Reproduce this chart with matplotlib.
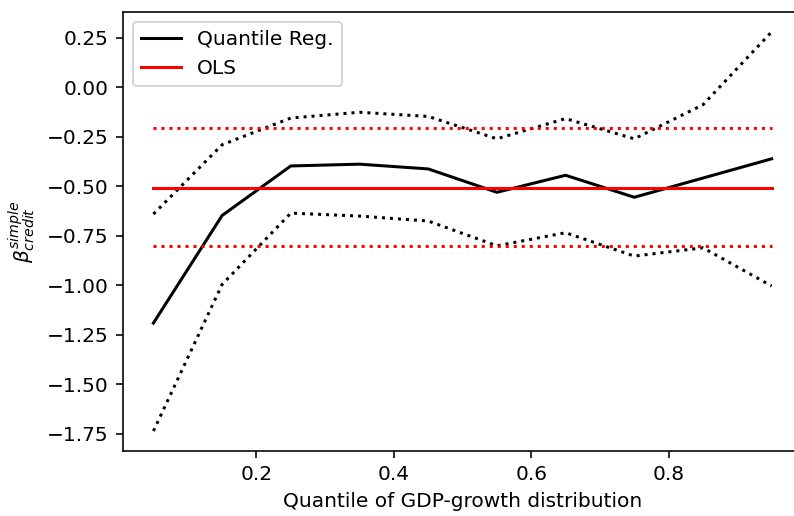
import numpy as np
import matplotlib
matplotlib.use("Agg")
import matplotlib.pyplot as plt

quantiles = [0.05, 0.15, 0.25, 0.35, 0.45, 0.55, 0.65, 0.75, 0.85, 0.95]
qr_coef = [-1.19, -0.647, -0.397, -0.388, -0.412, -0.53, -0.444, -0.555, -0.458, -0.361]
qr_upper = [-0.64, -0.29, -0.155, -0.126, -0.147, -0.26, -0.158, -0.26, -0.088, 0.28]
qr_lower = [-1.735, -0.995, -0.635, -0.65, -0.675, -0.80, -0.734, -0.852, -0.81, -1.003]
ols_coef = -0.506
ols_upper = -0.207
ols_lower = -0.803

dpi = 145
fig = plt.figure(figsize=(794 / dpi, 516 / dpi), dpi=dpi)
ax = fig.add_axes([0.1543, 0.126, 0.8565, 0.851])

q = np.array(quantiles)
ax.plot(q, qr_coef, color="black", label="Quantile Reg.")
ax.plot(q, qr_upper, color="black", linestyle=":")
ax.plot(q, qr_lower, color="black", linestyle=":")
ax.plot(q, np.full_like(q, ols_coef), color="red", label="OLS")
ax.plot(q, np.full_like(q, ols_upper), color="red", linestyle=":")
ax.plot(q, np.full_like(q, ols_lower), color="red", linestyle=":")

ax.set_xlabel("Quantile of GDP-growth distribution")
ax.set_ylabel(r"$\beta^{simple}_{credit}$")
ax.legend(loc="upper left")

fig.savefig("out.png", dpi=dpi)
